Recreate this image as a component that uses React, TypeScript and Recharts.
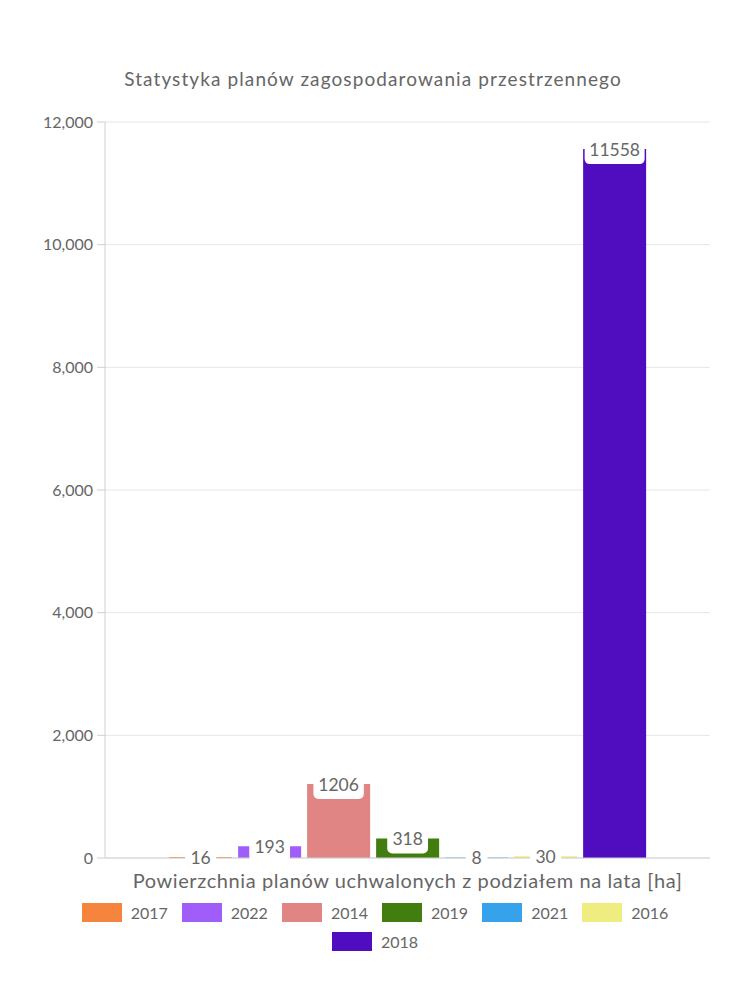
import { Bar, BarChart, CartesianGrid, LabelList, Legend, XAxis, YAxis } from "recharts";

const years = ["2017", "2022", "2014", "2019", "2021", "2016", "2018"];
const areas = [16, 193, 1206, 318, 8, 30, 11558];
const colors = ["#f5843f", "#a15df9", "#e08484", "#417e0f", "#36a2eb", "#efec80", "#500dc0"];
const yTicks = [0, 2000, 4000, 6000, 8000, 10000, 12000];

const FONT = "Lato, 'Noto Sans', sans-serif";
const TEXT = "#666";

const row: Record<string, string | number> = { name: "" };
years.forEach((y, i) => {
  row[y] = areas[i];
});
const data = [row];

function ValueLabel(props: any) {
  const { x, y, width, value } = props;
  const cx = x + width / 2;
  const w = String(value).length * 9.6 + 12;
  return (
    <g>
      <rect x={cx - w / 2} y={y - 15} width={w} height={30} rx={5} fill="#fff" />
      <text
        x={cx}
        y={y}
        textAnchor="middle"
        dominantBaseline="central"
        fontSize={17.5}
        fill={TEXT}
        fontFamily={FONT}
      >
        {value}
      </text>
    </g>
  );
}

function AxisTitle(props: any) {
  const { viewBox } = props;
  return (
    <text
      x={viewBox.x + viewBox.width / 2}
      y={viewBox.y + 22}
      textAnchor="middle"
      dominantBaseline="central"
      fontSize={20}
      letterSpacing={0.6}
      fill={TEXT}
      fontFamily={FONT}
    >
      Powierzchnia planów uchwalonych z podziałem na lata [ha]
    </text>
  );
}

function LegendBox() {
  return (
    <div
      style={{
        width: 620,
        height: 58,
        margin: "0 auto",
        display: "flex",
        flexWrap: "wrap",
        justifyContent: "center",
        alignContent: "flex-start",
        fontFamily: FONT,
        fontSize: 16,
        color: TEXT,
      }}
    >
      {years.map((y, i) => (
        <div
          key={y}
          style={{ display: "flex", alignItems: "center", height: 29, margin: "0 7px" }}
        >
          <span style={{ width: 40, height: 19, background: colors[i], marginRight: 9 }} />
          {y}
        </div>
      ))}
    </div>
  );
}

export default function App() {
  return (
    <div style={{ position: "absolute", left: 0, top: 0, width: 750, height: 1000, background: "#fff" }}>
      <div
        style={{
          position: "absolute",
          top: 67,
          left: 0,
          width: 746,
          textAlign: "center",
          fontFamily: FONT,
          fontSize: 19,
          color: TEXT,
          letterSpacing: 1.1,
        }}
      >
        Statystyka planów zagospodarowania przestrzennego
      </div>
      <BarChart
        width={750}
        height={1000}
        data={data}
        margin={{ top: 122, right: 40, bottom: 44, left: 0 }}
        barCategoryGap="10.6%"
        barGap={6}
      >
        <CartesianGrid stroke="#e6e6e6" vertical={false} />
        <XAxis dataKey="name" height={40} tick={false} tickLine={false} axisLine={{ stroke: "#d0d0d0" }} label={<AxisTitle />} />
        <YAxis
          width={105}
          domain={[0, 12000]}
          ticks={yTicks}
          tickFormatter={(v: number) => v.toLocaleString("en-US")}
          tick={{ fill: TEXT, fontSize: 16, fontFamily: FONT }}
          tickSize={8}
          tickMargin={4}
          axisLine={{ stroke: "#d0d0d0" }}
          tickLine={{ stroke: "#d0d0d0" }}
        />
        <YAxis yAxisId="r" orientation="right" width={0} tick={false} tickLine={false} axisLine={{ stroke: "#e6e6e6" }} />
        <Legend verticalAlign="bottom" content={<LegendBox />} wrapperStyle={{ left: 0, width: 750 }} />
        {years.map((y, i) => (
          <Bar key={y} dataKey={y} fill={colors[i]} isAnimationActive={false}>
            <LabelList dataKey={y} content={<ValueLabel />} />
          </Bar>
        ))}
      </BarChart>
    </div>
  );
}
